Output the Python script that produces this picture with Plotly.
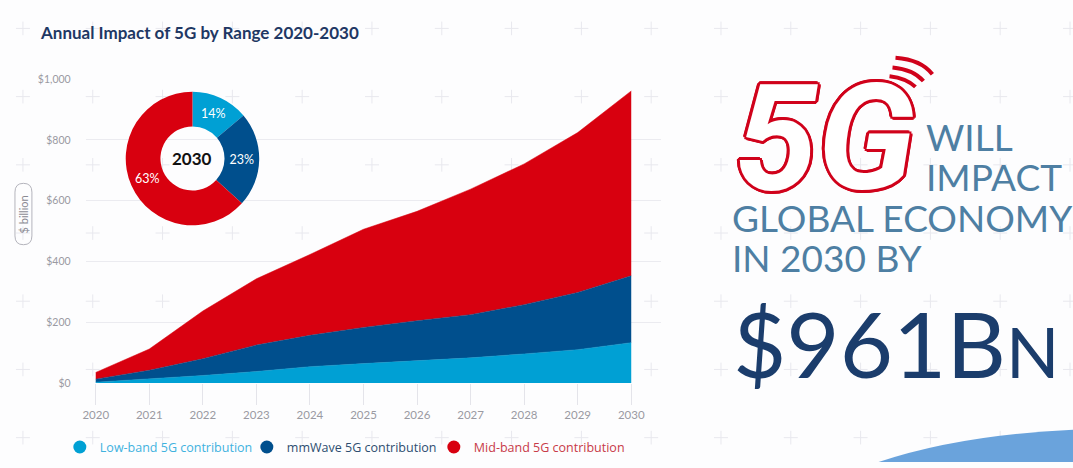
import plotly.graph_objects as go

W, H = 1073, 468
DOL = "&#36;"

# ---------------- data ----------------
years = [2020, 2021, 2022, 2023, 2024, 2025, 2026, 2027, 2028, 2029, 2030]
low_band = [3, 13, 25, 38, 54, 64, 74, 83, 96, 110, 133]
mmwave = [10, 29, 55, 87, 103, 119, 131, 142, 162, 188, 220]
mid_band = [22, 70, 157, 218, 266, 323, 360, 413, 463, 526, 608]
y_ticks = [0, 200, 400, 600, 800, 1000]
y_tick_labels = [DOL + f"{v:,}" for v in y_ticks]
series_names = ["Low-band 5G contribution", "mmWave 5G contribution", "Mid-band 5G contribution"]
pie_year = "2030"

C_LOW = "#00a0d4"
C_MM = "#004f8d"
C_MID = "#d8000f"
LEG_COLORS = ["#3fb2de", "#2e4d70", "#c83a48"]


def px(x):
    return x / W


def py(y):
    return 1 - y / H


fig = go.Figure()

for vals, name, col in zip([low_band, mmwave, mid_band], series_names, [C_LOW, C_MM, C_MID]):
    fig.add_trace(go.Scatter(
        x=years, y=vals, mode="lines", stackgroup="one",
        line=dict(color=col, width=0.5), fillcolor=col,
        name=name, showlegend=False, hoverinfo="skip"))

# legend entries (pill-like markers)
for name, col, lc in zip(series_names, [C_LOW, C_MM, C_MID], LEG_COLORS):
    fig.add_trace(go.Scatter(
        x=[None], y=[None], mode="markers",
        marker=dict(symbol="circle", size=13, color=col),
        name=f"<span style='color:{lc}'>{name}</span>", showlegend=True))
# invisible spacer entry so the last legend label is not clipped
fig.add_trace(go.Scatter(x=[None], y=[None], mode="markers",
                         marker=dict(color="rgba(0,0,0,0)", size=1),
                         name=" ", showlegend=True))

# donut for final year
fig.add_trace(go.Pie(
    values=[low_band[-1], mmwave[-1], mid_band[-1]],
    labels=series_names,
    marker=dict(colors=[C_LOW, C_MM, C_MID], line=dict(width=0)),
    hole=0.48, sort=False, direction="clockwise", rotation=0,
    texttemplate="%{percent:.0%}", textposition="inside",
    insidetextorientation="horizontal",
    textfont=dict(color="white", size=12.5, family="Lato"),
    domain=dict(x=[px(122), px(258)], y=[py(225), py(88)]),
    showlegend=False, hoverinfo="skip"))

# decorative plus-grid background
segs = []
for cx in range(20, W + 1, 70):
    for cy in range(23, H + 1, 70):
        segs.append(f"M{px(cx-7)},{py(cy)} L{px(cx+7)},{py(cy)}")
        segs.append(f"M{px(cx)},{py(cy-7)} L{px(cx)},{py(cy+7)}")
shapes = [dict(type="path", xref="paper", yref="paper", path=" ".join(segs),
               line=dict(color="#e8e8ee", width=1), layer="below")]

# $ billion pill
pill = (f"M{px(12)},{py(191)} Q{px(12)},{py(182)} {px(20.5)},{py(182)} "
        f"Q{px(29)},{py(182)} {px(29)},{py(191)} L{px(29)},{py(236)} "
        f"Q{px(29)},{py(245)} {px(20.5)},{py(245)} Q{px(12)},{py(245)} {px(12)},{py(236)} Z")
shapes.append(dict(type="path", xref="paper", yref="paper", path=pill,
                   line=dict(color="#b4b4bc", width=1)))

# wifi arcs above the G
for (x0, y0, xc, yc, x1, y1) in [(895, 53, 921, 55, 932, 70),
                                 (892, 63, 913, 65, 923, 77),
                                 (889, 72, 906, 74, 915, 83)]:
    shapes.append(dict(type="path", xref="paper", yref="paper",
                       path=f"M{px(x0)},{py(y0)} Q{px(xc)},{py(yc)} {px(x1)},{py(y1)}",
                       line=dict(color="#d0021b", width=4)))

# bottom-right blue decoration
shapes.append(dict(type="path", xref="paper", yref="paper",
                   path=f"M{px(878)},{py(468)} Q{px(960)},{py(440)} {px(1073)},{py(435)} L{px(1073)},{py(468)} Z",
                   fillcolor="#6aa3dc", line=dict(width=0)))

red_outline = ", ".join(f"{dx}px {dy}px 0 #d0021b" for dx, dy in
                        [(3, 0), (-3, 0), (0, 3), (0, -3), (2, 2), (-2, -2), (2, -2), (-2, 2),
                         (3, 1), (-3, -1), (1, 3), (-1, -3)])


def A(**kw):
    d = dict(xref="paper", yref="paper", showarrow=False, xanchor="center", yanchor="middle")
    d.update(kw)
    return d


BLUE_TXT = "#4e7fa3"
ann = [
    A(text="<b>Annual Impact of 5G by Range 2020-2030</b>", x=px(35), y=py(27),
      xanchor="left", font=dict(family="Lato", size=17, color="#1f3864")),
    A(text=DOL + " billion", x=px(20.5), y=py(213.5), textangle=-90,
      font=dict(family="Lato", size=11, color="#8a8a92")),
    A(text="<b>" + pie_year + "</b>", x=px(190), y=py(157),
      font=dict(family="Lato", size=17, color="#111111")),
    A(text="<b><i>5G</i></b>", x=px(824), y=py(136),
      font=dict(family="Roboto", size=148, color="#ffffff", shadow=red_outline)),
    A(text="WILL", x=px(924), y=py(134), xanchor="left",
      font=dict(family="Lato", size=37, color=BLUE_TXT)),
    A(text="IMPACT", x=px(924), y=py(175), xanchor="left",
      font=dict(family="Lato", size=37, color=BLUE_TXT)),
    A(text="GLOBAL ECONOMY", x=px(729), y=py(217), xanchor="left",
      font=dict(family="Lato", size=37, color=BLUE_TXT)),
    A(text="IN 2030 BY", x=px(729), y=py(258), xanchor="left",
      font=dict(family="Lato", size=37, color=BLUE_TXT)),
    A(text=DOL + "961B<span style='font-size:70px'>N</span>", x=px(730), y=py(345),
      xanchor="left", font=dict(family="Lato", size=92, color="#1b3d6c")),
]

x_left = 2020 - (93 - 83) / 53.7
x_right = 2030 + (660 - 630) / 53.7

fig.update_layout(
    width=W, height=H,
    margin=dict(l=0, r=0, t=0, b=0),
    paper_bgcolor="#fdfdfe", plot_bgcolor="rgba(0,0,0,0)",
    shapes=shapes, annotations=ann,
    xaxis=dict(domain=[px(83), px(660)], range=[x_left, x_right],
               tickvals=years, ticktext=[str(y) for y in years],
               showgrid=False, zeroline=False, showline=False,
               ticks="outside", ticklen=21, tickcolor="#e4e4ea",
               tickfont=dict(family="Lato", size=11.5, color="#9a9aa2")),
    yaxis=dict(domain=[py(387), py(75)], range=[0, 1000],
               tickmode="array", tickvals=y_ticks, ticktext=y_tick_labels,
               showgrid=True, gridcolor="#ebebf0", gridwidth=1,
               zeroline=False, showline=False,
               ticks="outside", ticklen=12, tickcolor="rgba(0,0,0,0)",
               tickfont=dict(family="Lato", size=10.5, color="#9a9aa2")),
    legend=dict(orientation="h", x=px(57), y=py(453), xanchor="left", yanchor="middle",
                traceorder="normal", entrywidth=142, entrywidthmode="pixels",
                font=dict(family="Open Sans", size=12.5), bgcolor="rgba(0,0,0,0)"),
    showlegend=True,
)

fig.write_html("out.html")
